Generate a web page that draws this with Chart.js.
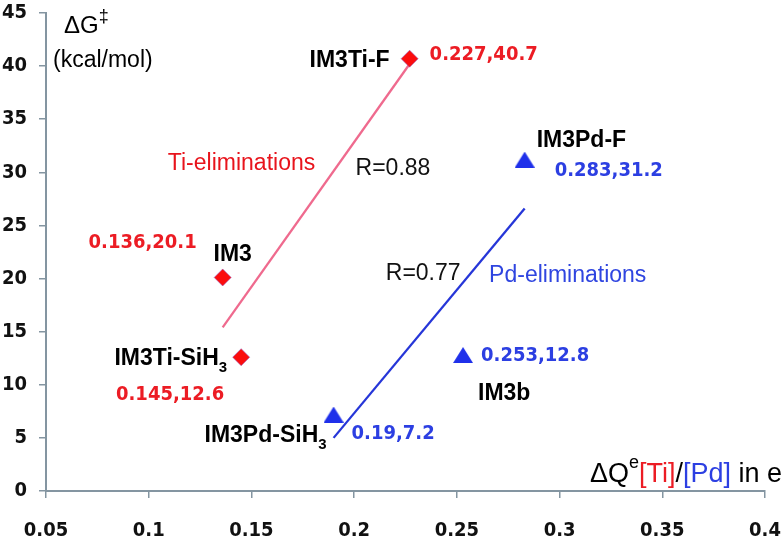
<!DOCTYPE html>
<html>
<head>
<meta charset="utf-8">
<script src="https://cdn.jsdelivr.net/npm/chart.js@4"></script>
<style>
  html, body { margin: 0; padding: 0; background: #ffffff; }
  #wrap { width: 784px; height: 537px; position: relative; }
</style>
</head>
<body>
<div id="wrap"><canvas id="c"></canvas></div>
<script>
// ---------- data ----------
const xTickValues = [0.05, 0.1, 0.15, 0.2, 0.25, 0.3, 0.35, 0.4];
const xTickLabels = ['0.05', '0.1', '0.15', '0.2', '0.25', '0.3', '0.35', '0.4'];
const yTickValues = [0, 5, 10, 15, 20, 25, 30, 35, 40, 45];
const yTickLabels = ['0', '5', '10', '15', '20', '25', '30', '35', '40', '45'];

const tiNames = ['IM3', 'IM3Ti-SiH3', 'IM3Ti-F'];
const tiX = [0.136, 0.145, 0.227];
const tiY = [20.1, 12.6, 40.7];

const pdNames = ['IM3Pd-SiH3', 'IM3b', 'IM3Pd-F'];
const pdX = [0.19, 0.253, 0.283];
const pdY = [7.2, 12.8, 31.2];

const tiFitX = [0.136, 0.227];
const tiFitY = [15.4, 40.2];
const pdFitX = [0.19, 0.283];
const pdFitY = [5.0, 26.6];

const tiRText = 'R=0.88';
const pdRText = 'R=0.77';
const tiGroupText = 'Ti-eliminations';
const pdGroupText = 'Pd-eliminations';

// ---------- label placement (pixel offsets from each point) ----------
const tiNamePlace = [
  { dx: 10, dy: -25, align: 'center' },
  { dx: -14, dy: 0, align: 'right' },
  { dx: -20, dy: 0, align: 'right' }
];
const tiValPlace = [
  { dx: -26, dy: -37, align: 'right' },
  { dx: -17, dy: 36, align: 'right' },
  { dx: 20, dy: -6, align: 'left' }
];
const pdNamePlace = [
  { dx: -7, dy: 19, align: 'right' },
  { dx: 15, dy: 37, align: 'left' },
  { dx: 12, dy: -21, align: 'left' }
];
const pdValPlace = [
  { dx: 18, dy: 17, align: 'left' },
  { dx: 18, dy: -1, align: 'left' },
  { dx: 30, dy: 9, align: 'left' }
];
// free annotations, anchored in data units (left edge, vertical centre)
const freeNotes = [
  { text: tiGroupText, x: 0.1093, y: 31.0, color: '#e8141c' },
  { text: tiRText, x: 0.2007, y: 30.5, color: '#111111' },
  { text: pdRText, x: 0.2154, y: 20.6, color: '#111111' },
  { text: pdGroupText, x: 0.2657, y: 20.45, color: '#2f45e0' }
];

// ---------- styles ----------
const RED = '#ec1c24';
const BLUE = '#2c3fe2';
const AXIS = '#8495a1';
const NAME_FONT = 'bold 23px "Liberation Sans", Arial, sans-serif';
const SUB_FONT = 'bold 15px "Liberation Sans", Arial, sans-serif';
const VAL_FONT = 'bold 20px "DejaVu Sans Condensed", "DejaVu Sans", sans-serif';
const NOTE_FONT = '23px "Liberation Sans", Arial, sans-serif';

// triangle marker (slightly wider than tall)
function makeTriangle(w, h, color) {
  const cv = document.createElement('canvas');
  cv.width = w; cv.height = h;
  const g = cv.getContext('2d');
  g.fillStyle = color;
  g.beginPath();
  g.moveTo(w / 2, 0);
  g.lineTo(w, h);
  g.lineTo(0, h);
  g.closePath();
  g.fill();
  return cv;
}
const triImg = makeTriangle(20, 16, '#1f30ea');

function segWidth(ctx, segs) {
  let w = 0;
  for (const s of segs) { ctx.font = s.font; w += ctx.measureText(s.t).width; }
  return w;
}
// segs: {t, font, color, dy}; y is baseline
function drawSegs(ctx, segs, x, y, align) {
  const total = segWidth(ctx, segs);
  let cx = align === 'right' ? x - total : align === 'center' ? x - total / 2 : x;
  ctx.textBaseline = 'alphabetic';
  ctx.textAlign = 'left';
  for (const s of segs) {
    ctx.font = s.font;
    ctx.fillStyle = s.color;
    ctx.fillText(s.t, cx, y + (s.dy || 0));
    cx += ctx.measureText(s.t).width;
  }
}
function nameSegs(name) {
  if (/H3$/.test(name)) {
    return [
      { t: name.slice(0, -1), font: NAME_FONT, color: '#000' },
      { t: '3', font: SUB_FONT, color: '#000', dy: 7 }
    ];
  }
  return [{ t: name, font: NAME_FONT, color: '#000' }];
}

const labelPlugin = {
  id: 'labels',
  afterDatasetsDraw(chart) {
    const ctx = chart.ctx;
    const xs = chart.scales.x, ys = chart.scales.y;
    const area = chart.chartArea;
    ctx.save();
    const groups = [
      { meta: chart.getDatasetMeta(0), names: tiNames, xv: tiX, yv: tiY, np: tiNamePlace, vp: tiValPlace, col: RED },
      { meta: chart.getDatasetMeta(1), names: pdNames, xv: pdX, yv: pdY, np: pdNamePlace, vp: pdValPlace, col: BLUE }
    ];
    for (const g of groups) {
      g.meta.data.forEach((el, i) => {
        const n = g.np[i];
        drawSegs(ctx, nameSegs(g.names[i]), el.x + n.dx, el.y + n.dy + 8.3, n.align);
        const v = g.vp[i];
        const txt = g.xv[i] + ',' + g.yv[i].toFixed(1);
        drawSegs(ctx, [{ t: txt, font: VAL_FONT, color: g.col }], el.x + v.dx, el.y + v.dy + 7.3, v.align);
      });
    }
    for (const nt of freeNotes) {
      drawSegs(ctx, [{ t: nt.text, font: NOTE_FONT, color: nt.color }],
        xs.getPixelForValue(nt.x), ys.getPixelForValue(nt.y) + 8.3, 'left');
    }
    // y axis title
    drawSegs(ctx, [
      { t: '\u0394G', font: '24px "Liberation Sans", Arial, sans-serif', color: '#000' },
      { t: '\u2021', font: '18px "Liberation Sans", Arial, sans-serif', color: '#000', dy: -11 }
    ], area.left + 18, area.top + 20, 'left');
    drawSegs(ctx, [
      { t: '(kcal/mol)', font: '23px "Liberation Sans", Arial, sans-serif', color: '#000' }
    ], area.left + 7, area.top + 54, 'left');
    // x axis title
    const F = '27px "Liberation Sans", Arial, sans-serif';
    drawSegs(ctx, [
      { t: '\u0394Q', font: F, color: '#000' },
      { t: 'e', font: '18px "Liberation Sans", Arial, sans-serif', color: '#000', dy: -14 },
      { t: '[Ti]', font: F, color: RED },
      { t: '/', font: F, color: '#000' },
      { t: '[Pd]', font: F, color: BLUE },
      { t: ' in e', font: F, color: '#000' }
    ], area.right + 17, area.bottom - 9, 'right');
    ctx.restore();
  }
};

const toPts = (xa, ya) => xa.map((x, i) => ({ x: x, y: ya[i] }));

new Chart(document.getElementById('c'), {
  type: 'scatter',
  data: {
    datasets: [
      {
        label: 'Ti',
        data: toPts(tiX, tiY),
        pointStyle: 'rectRot',
        pointRadius: 8.5,
        pointHoverRadius: 8.5,
        backgroundColor: '#fb0d0d',
        borderColor: 'rgba(150,90,190,0.55)',
        borderWidth: 1,
        order: 1
      },
      {
        label: 'Pd',
        data: toPts(pdX, pdY),
        pointStyle: triImg,
        pointRadius: 10,
        backgroundColor: '#1f30ea',
        borderWidth: 0,
        order: 1
      },
      {
        type: 'line',
        label: 'Ti fit',
        data: toPts(tiFitX, tiFitY),
        borderColor: '#ef6a8e',
        borderWidth: 2.3,
        pointRadius: 0,
        fill: false,
        order: 2
      },
      {
        type: 'line',
        label: 'Pd fit',
        data: toPts(pdFitX, pdFitY),
        borderColor: '#2636d8',
        borderWidth: 2.3,
        pointRadius: 0,
        fill: false,
        order: 2
      }
    ]
  },
  options: {
    responsive: true,
    maintainAspectRatio: false,
    animation: false,
    devicePixelRatio: 1,
    layout: { padding: { top: 13, right: 19, left: 0, bottom: 0 } },
    plugins: { legend: { display: false }, tooltip: { enabled: false }, title: { display: false } },
    scales: {
      x: {
        type: 'linear',
        min: 0.05,
        max: 0.4,
        afterBuildTicks: (s) => { s.ticks = xTickValues.map(v => ({ value: v })); },
        afterFit: (s) => { s.height = 46; s.paddingLeft = 0; s.paddingRight = 0; },
        ticks: {
          callback: (v) => { const i = xTickValues.findIndex(t => Math.abs(t - v) < 1e-9); return i >= 0 ? xTickLabels[i] : ''; },
          font: { family: '"DejaVu Sans Condensed", "DejaVu Sans", sans-serif', size: 20, weight: 'bold' },
          color: '#111',
          padding: 21,
          maxRotation: 0,
          autoSkip: false
        },
        grid: { display: true, drawOnChartArea: false, drawTicks: true, tickLength: 7, tickColor: AXIS, lineWidth: 1.5 },
        border: { display: true, color: AXIS, width: 2 }
      },
      y: {
        type: 'linear',
        min: 0,
        max: 45,
        afterBuildTicks: (s) => { s.ticks = yTickValues.map(v => ({ value: v })); },
        afterFit: (s) => { s.width = 46; s.paddingTop = 0; s.paddingBottom = 0; },
        ticks: {
          callback: (v) => { const i = yTickValues.indexOf(v); return i >= 0 ? yTickLabels[i] : ''; },
          font: { family: '"DejaVu Sans Condensed", "DejaVu Sans", sans-serif', size: 20, weight: 'bold' },
          color: '#111',
          padding: 12,
          autoSkip: false
        },
        grid: { display: true, drawOnChartArea: false, drawTicks: true, tickLength: 7, tickColor: AXIS, lineWidth: 1.5 },
        border: { display: true, color: AXIS, width: 2 }
      }
    }
  },
  plugins: [labelPlugin]
});
</script>
</body>
</html>
